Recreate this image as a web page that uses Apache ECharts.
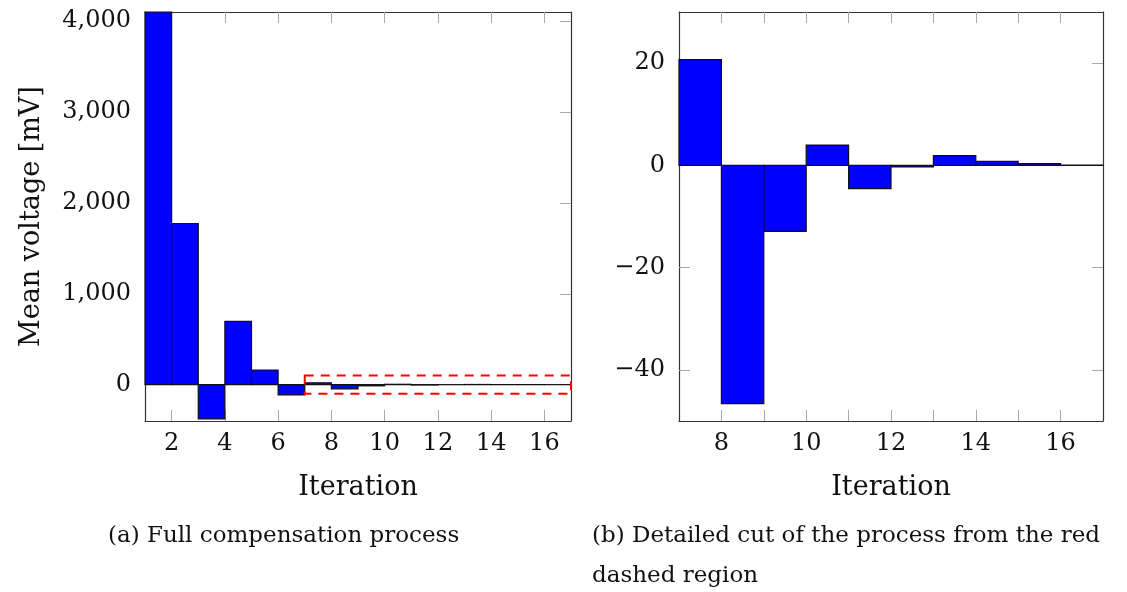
<!DOCTYPE html>
<html>
<head>
<meta charset="utf-8">
<script src="https://cdn.jsdelivr.net/npm/echarts@6/dist/echarts.min.js"></script>
<style>
  html, body { margin: 0; padding: 0; background: #fff; }
  #main { width: 1127px; height: 592px; }
</style>
</head>
<body>
<div id="main"></div>
<script>
// iteration i is drawn as a bar from i to i+1
var iterations = [1, 2, 3, 4, 5, 6, 7, 8, 9, 10, 11, 12, 13, 14, 15, 16];
var meanVoltage = [4400, 1773, -377, 696, 161, -113, 20.7, -46.6, -12.9, 3.97, -4.56, -0.3, 1.89, 0.78, 0.33, 0.05];

// detail region (x from, x to, y from, y to)
var zoomBox = [[7, 17, -100, 100]];

var fullXTicks = [2, 4, 6, 8, 10, 12, 14, 16];
var fullYTicks = [0, 1000, 2000, 3000, 4000];
var cutXTicks = [8, 9, 10, 11, 12, 13, 14, 15, 16];
var cutXLabels = [8, 10, 12, 14, 16];
var cutYTicks = [-40, -20, 0, 20];

var FONT = 'DejaVu Serif';

var fullData = [];
var cutData = [];
for (var i = 0; i < iterations.length; i++) {
    fullData.push([iterations[i], meanVoltage[i]]);
    if (iterations[i] >= 7) {
        cutData.push([iterations[i], meanVoltage[i]]);
    }
}

function fmtNum(v) {
    var s = Math.abs(v).toString().replace(/\B(?=(\d{3})+(?!\d))/g, ',');
    return v < 0 ? '\u2212' + s : s;
}

function renderBar(params, api) {
    var x0 = api.value(0);
    var v = api.value(1);
    var p0 = api.coord([x0, 0]);
    var p1 = api.coord([x0 + 1, v]);
    var cs = params.coordSys;
    var shape = echarts.graphic.clipRectByRect({
        x: p0[0],
        y: Math.min(p0[1], p1[1]),
        width: p1[0] - p0[0],
        height: Math.abs(p1[1] - p0[1])
    }, { x: cs.x, y: cs.y, width: cs.width, height: cs.height });
    if (!shape) return;
    return {
        type: 'rect',
        shape: shape,
        style: { fill: '#0000ff', stroke: '#111', lineWidth: 1.2 }
    };
}

function renderBox(params, api) {
    var a = api.coord([api.value(0), api.value(3)]);
    var b = api.coord([api.value(1), api.value(2)]);
    return {
        type: 'rect',
        shape: { x: a[0], y: a[1], width: b[0] - a[0], height: b[1] - a[1] },
        style: { fill: 'none', stroke: '#ff0000', lineWidth: 2, lineDash: [9, 7] }
    };
}

function xAxisPair(grid, min, max, ticks, labels) {
    var line = { show: true, onZero: false, lineStyle: { color: '#333', width: 1.2 } };
    var tick = { show: true, inside: true, length: 11, customValues: ticks, lineStyle: { color: '#aaa', width: 1 } };
    return [{
        type: 'value', gridIndex: grid, min: min, max: max, position: 'bottom',
        axisLine: line, axisTick: tick, splitLine: { show: false },
        axisLabel: { customValues: labels, margin: 11, color: '#111', fontFamily: FONT, fontSize: 24 },
        name: 'Iteration', nameLocation: 'middle', nameGap: 53,
        nameTextStyle: { color: '#111', fontFamily: FONT, fontSize: 27 }
    }, {
        type: 'value', gridIndex: grid, min: min, max: max, position: 'top',
        axisLine: line, axisTick: tick, splitLine: { show: false },
        axisLabel: { show: false }
    }];
}

function yAxisPair(grid, min, max, ticks, name) {
    var line = { show: true, onZero: false, lineStyle: { color: '#333', width: 1.2 } };
    var tick = { show: true, inside: true, length: 11, customValues: ticks, lineStyle: { color: '#aaa', width: 1 } };
    return [{
        type: 'value', gridIndex: grid, min: min, max: max, position: 'left',
        axisLine: line, axisTick: tick, splitLine: { show: false },
        axisLabel: { customValues: ticks, margin: 14, color: '#111', fontFamily: FONT, fontSize: 24, formatter: fmtNum },
        name: name, nameLocation: 'middle', nameGap: 100,
        nameTextStyle: { color: '#111', fontFamily: FONT, fontSize: 27 }
    }, {
        type: 'value', gridIndex: grid, min: min, max: max, position: 'right',
        axisLine: line, axisTick: tick, splitLine: { show: false },
        axisLabel: { show: false }
    }];
}

var chart = echarts.init(document.getElementById('main'));

var option = {
    animation: false,
    backgroundColor: '#fff',
    grid: [
        { left: 145, top: 12, width: 426, height: 409 },
        { left: 679, top: 12, width: 424, height: 409 }
    ],
    xAxis: xAxisPair(0, 1, 17, fullXTicks, fullXTicks).concat(xAxisPair(1, 7, 17, cutXTicks, cutXLabels)),
    yAxis: yAxisPair(0, -400, 4100, fullYTicks, 'Mean voltage [mV]').concat(yAxisPair(1, -50, 30, cutYTicks, '')),
    series: [{
        type: 'custom',
        xAxisIndex: 0, yAxisIndex: 0,
        renderItem: renderBar,
        data: fullData
    }, {
        type: 'custom',
        xAxisIndex: 0, yAxisIndex: 0,
        renderItem: renderBox,
        data: zoomBox,
        z: 5
    }, {
        type: 'custom',
        xAxisIndex: 2, yAxisIndex: 2,
        renderItem: renderBar,
        data: cutData
    }],
    graphic: [{
        type: 'text', left: 108, top: 525,
        style: { text: '(a) Full compensation process', fill: '#111', font: '23px "DejaVu Serif"' }
    }, {
        type: 'text', left: 592, top: 525,
        style: { text: '(b) Detailed cut of the process from the red', fill: '#111', font: '23px "DejaVu Serif"' }
    }, {
        type: 'text', left: 592, top: 565,
        style: { text: 'dashed region', fill: '#111', font: '23px "DejaVu Serif"' }
    }]
};

chart.setOption(option);
</script>
</body>
</html>
